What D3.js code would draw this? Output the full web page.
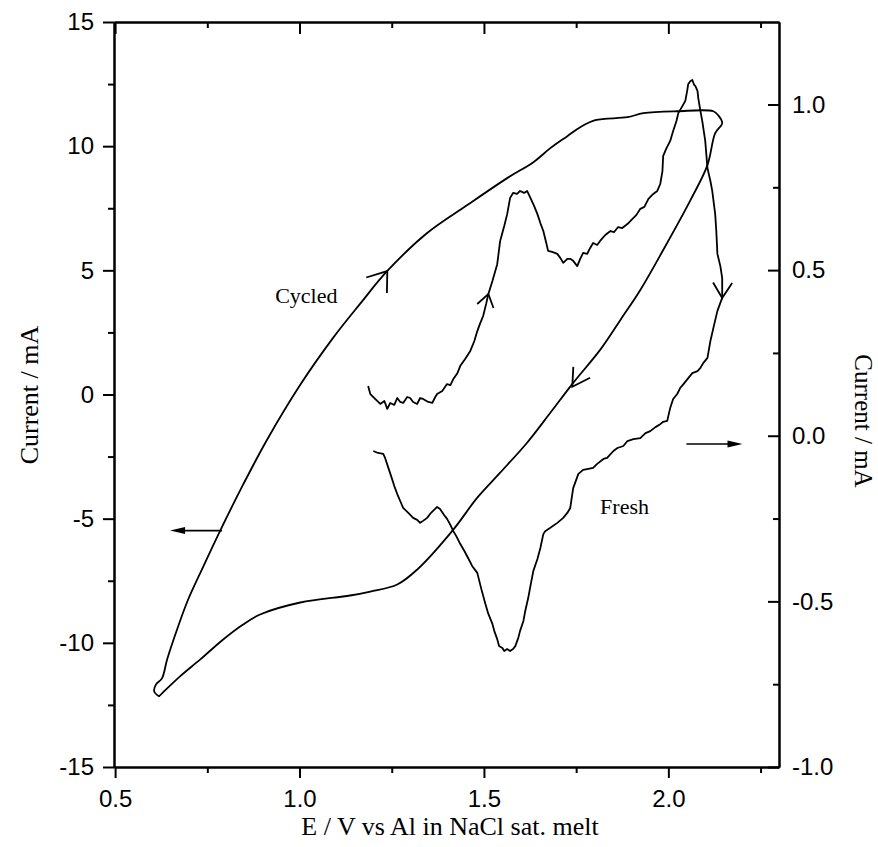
<!DOCTYPE html>
<html>
<head>
<meta charset="utf-8">
<script src="https://cdn.jsdelivr.net/npm/d3@7"></script>
<style>
  html, body { margin: 0; padding: 0; background: #fff; }
  svg { display: block; }
</style>
</head>
<body>
<svg id="chart" width="878" height="847"></svg>
<script>
// ---------------- DATA ----------------
const voltageTicks = [0.5, 1.0, 1.5, 2.0];
const voltageMinorTicks = [0.75, 1.25, 1.75, 2.25];
const leftTicks = [-15, -10, -5, 0, 5, 10, 15];
const leftMinorTicks = [-12.5, -7.5, -2.5, 2.5, 7.5, 12.5];
const rightTicks = [-1.0, -0.5, 0.0, 0.5, 1.0];
const rightMinorTicks = [-0.75, -0.25, 0.25, 0.75];

// Cycled electrode (left axis, mA) - closed loop
const cycledV = [0.619, 0.606, 0.611, 0.627, 0.641, 0.668, 0.698, 0.739, 0.785, 0.847, 0.912, 1.002, 1.091, 1.164, 1.238, 1.346, 1.455, 1.563, 1.634, 1.680, 1.726, 1.761, 1.802, 1.889, 1.932, 2.024, 2.122, 2.135, 2.146, 2.127, 2.106, 2.060, 1.986, 1.924, 1.870, 1.815, 1.742, 1.680, 1.617, 1.544, 1.482, 1.417, 1.319, 1.265, 1.192, 1.137, 1.002, 0.893, 0.847, 0.793, 0.731, 0.676, 0.630, 0.619];
const cycledI = [-12.155, -11.954, -11.673, -11.432, -10.667, -9.461, -8.255, -6.928, -5.480, -3.631, -1.822, 0.390, 2.280, 3.647, 4.974, 6.502, 7.628, 8.713, 9.356, 9.920, 10.402, 10.764, 11.045, 11.166, 11.327, 11.407, 11.407, 11.246, 10.925, 10.523, 9.236, 7.829, 5.818, 4.210, 3.004, 1.797, 0.470, -0.736, -1.942, -3.148, -4.154, -5.440, -7.049, -7.652, -7.933, -8.094, -8.376, -8.858, -9.260, -9.863, -10.667, -11.351, -11.994, -12.155];

// Fresh electrode (right axis, mA)
const freshV = [1.186, 1.192, 1.205, 1.219, 1.230, 1.238, 1.246, 1.257, 1.265, 1.273, 1.281, 1.292, 1.300, 1.308, 1.319, 1.327, 1.335, 1.349, 1.360, 1.368, 1.373, 1.387, 1.400, 1.409, 1.417, 1.428, 1.436, 1.449, 1.463, 1.474, 1.482, 1.490, 1.498, 1.506, 1.512, 1.523, 1.536, 1.544, 1.555, 1.563, 1.571, 1.579, 1.590, 1.598, 1.609, 1.617, 1.626, 1.636, 1.645, 1.653, 1.661, 1.669, 1.674, 1.685, 1.699, 1.707, 1.715, 1.726, 1.734, 1.742, 1.753, 1.761, 1.769, 1.780, 1.788, 1.796, 1.807, 1.815, 1.829, 1.843, 1.853, 1.864, 1.875, 1.889, 1.902, 1.913, 1.924, 1.935, 1.946, 1.959, 1.970, 1.978, 1.984, 1.986, 1.994, 2.005, 2.013, 2.022, 2.027, 2.038, 2.046, 2.051, 2.054, 2.060, 2.065, 2.070, 2.073, 2.079, 2.081, 2.087, 2.092, 2.100, 2.106, 2.114, 2.119, 2.127, 2.130, 2.133, 2.141, 2.146, 2.146, 2.133, 2.122, 2.114, 2.106, 2.095, 2.087, 2.079, 2.065, 2.054, 2.041, 2.032, 2.024, 2.013, 2.005, 1.997, 1.986, 1.978, 1.965, 1.951, 1.938, 1.924, 1.905, 1.889, 1.878, 1.862, 1.851, 1.834, 1.824, 1.807, 1.796, 1.783, 1.769, 1.756, 1.742, 1.734, 1.726, 1.715, 1.699, 1.680, 1.666, 1.661, 1.653, 1.645, 1.634, 1.626, 1.620, 1.612, 1.607, 1.598, 1.593, 1.585, 1.579, 1.571, 1.563, 1.555, 1.550, 1.541, 1.536, 1.528, 1.523, 1.512, 1.504, 1.493, 1.482, 1.468, 1.457, 1.447, 1.436, 1.425, 1.417, 1.409, 1.400, 1.392, 1.381, 1.373, 1.362, 1.354, 1.346, 1.335, 1.327, 1.319, 1.308, 1.295, 1.281, 1.273, 1.265, 1.257, 1.251, 1.240, 1.232, 1.227, 1.213, 1.200];
const freshI = [0.150, 0.126, 0.111, 0.096, 0.105, 0.081, 0.099, 0.093, 0.114, 0.102, 0.099, 0.117, 0.114, 0.102, 0.096, 0.114, 0.111, 0.102, 0.099, 0.117, 0.126, 0.135, 0.156, 0.153, 0.171, 0.189, 0.211, 0.232, 0.256, 0.286, 0.316, 0.340, 0.362, 0.398, 0.428, 0.467, 0.518, 0.588, 0.633, 0.669, 0.718, 0.733, 0.730, 0.739, 0.733, 0.739, 0.718, 0.694, 0.669, 0.642, 0.618, 0.582, 0.558, 0.555, 0.549, 0.537, 0.522, 0.534, 0.534, 0.528, 0.512, 0.534, 0.552, 0.549, 0.567, 0.582, 0.576, 0.588, 0.606, 0.618, 0.615, 0.630, 0.627, 0.639, 0.654, 0.666, 0.685, 0.691, 0.715, 0.730, 0.739, 0.760, 0.799, 0.845, 0.866, 0.890, 0.920, 0.950, 0.974, 0.995, 1.011, 1.041, 1.062, 1.071, 1.074, 1.059, 1.056, 1.041, 1.020, 0.980, 0.950, 0.890, 0.808, 0.769, 0.739, 0.669, 0.618, 0.549, 0.512, 0.476, 0.416, 0.377, 0.325, 0.286, 0.235, 0.220, 0.205, 0.195, 0.189, 0.174, 0.156, 0.144, 0.126, 0.111, 0.084, 0.045, 0.042, 0.035, 0.026, 0.014, 0.008, -0.007, -0.010, -0.016, -0.031, -0.037, -0.046, -0.067, -0.070, -0.085, -0.097, -0.100, -0.103, -0.115, -0.158, -0.218, -0.233, -0.248, -0.263, -0.278, -0.288, -0.297, -0.339, -0.372, -0.408, -0.454, -0.490, -0.529, -0.559, -0.589, -0.611, -0.635, -0.644, -0.650, -0.644, -0.650, -0.641, -0.635, -0.614, -0.589, -0.568, -0.538, -0.508, -0.463, -0.414, -0.393, -0.369, -0.348, -0.327, -0.303, -0.288, -0.269, -0.251, -0.239, -0.221, -0.215, -0.227, -0.236, -0.248, -0.257, -0.263, -0.254, -0.248, -0.233, -0.218, -0.197, -0.176, -0.152, -0.131, -0.094, -0.067, -0.055, -0.052, -0.046];

// Direction arrows on curves: [V, I, axis]
const sweepArrowV = [1.238, 1.512, 1.7395, 2.146];
const sweepArrowI = [4.97, 0.428, 0.31, 0.416];
const sweepArrowAxis = ["left", "right", "left", "right"];

// Axis-indicator arrows: [V start, V end, I, axis]
const axisArrowV0 = [0.790, 2.049];
const axisArrowV1 = [0.649, 2.201];
const axisArrowI = [-5.48, -0.025];
const axisArrowAxis = ["left", "right"];

// Labels
const labelText = ["Cycled", "Fresh"];
const labelV = [0.934, 1.815];
const labelI = [3.687, -0.236];
const labelAxis = ["left", "right"];

// ---------------- CHART ----------------
const svg = d3.select("#chart");
const L = 114, R = 779, T = 22, B = 767;

const x = d3.scaleLinear().domain([0.497, 2.3]).range([L, R]);
const yL = d3.scaleLinear().domain([-15, 15]).range([B, T]);
const yR = d3.scaleLinear().domain([-1.0, 1.249]).range([B, T]);
const yOf = a => a === "left" ? yL : yR;

const tickFont = "'Liberation Sans', Arial, sans-serif";
const serifFont = "'Liberation Serif', 'Times New Roman', serif";

function styleAxis(g) {
  g.select(".domain").attr("stroke", "#000").attr("stroke-width", 2);
  g.selectAll(".tick line").attr("stroke", "#000").attr("stroke-width", 2);
  g.selectAll(".tick text").attr("fill", "#000").style("font-family", tickFont).style("font-size", "24px");
}

// minor ticks
svg.append("g").attr("transform", `translate(0,${B})`)
  .call(d3.axisBottom(x).tickValues(voltageMinorTicks).tickSize(6).tickSizeOuter(0).tickFormat(""))
  .call(styleAxis);
svg.append("g").attr("transform", `translate(0,${T})`)
  .call(d3.axisTop(x).tickValues(voltageMinorTicks).tickSize(-6).tickSizeOuter(0).tickFormat(""))
  .call(styleAxis);
svg.append("g").attr("transform", `translate(${L},0)`)
  .call(d3.axisLeft(yL).tickValues(leftMinorTicks).tickSize(6).tickSizeOuter(0).tickFormat(""))
  .call(styleAxis);
svg.append("g").attr("transform", `translate(${R},0)`)
  .call(d3.axisRight(yR).tickValues(rightMinorTicks).tickSize(-6).tickSizeOuter(0).tickFormat(""))
  .call(styleAxis);

// major axes
svg.append("g").attr("transform", `translate(0,${B})`)
  .call(d3.axisBottom(x).tickValues(voltageTicks).tickSize(11).tickPadding(12).tickSizeOuter(0).tickFormat(d3.format(".1f")))
  .call(styleAxis);
svg.append("g").attr("transform", `translate(0,${T})`)
  .call(d3.axisTop(x).tickValues(voltageTicks).tickSize(-12).tickSizeOuter(0).tickFormat(""))
  .call(styleAxis);
svg.append("g").attr("transform", `translate(${L},0)`)
  .call(d3.axisLeft(yL).tickValues(leftTicks).tickSize(11).tickPadding(9).tickSizeOuter(0).tickFormat(d => String(d)))
  .call(styleAxis);
svg.append("g").attr("transform", `translate(${R},0)`)
  .call(d3.axisRight(yR).tickValues(rightTicks).tickSize(-11).tickPadding(13).tickSizeOuter(0).tickFormat(d3.format(".1f")))
  .call(styleAxis);

// plain hyphen minus signs as in the original
svg.selectAll(".tick text").text(function() { return d3.select(this).text().replace("\u2212", "-"); });

// curves
const cycled = cycledV.map((v, i) => [v, cycledI[i]]);
const fresh = freshV.map((v, i) => [v, freshI[i]]);

svg.append("path")
  .datum(cycled)
  .attr("fill", "none").attr("stroke", "#000").attr("stroke-width", 1.8)
  .attr("stroke-linejoin", "round")
  .attr("d", d3.line().x(d => x(d[0])).y(d => yL(d[1])).curve(d3.curveCatmullRom.alpha(0.5)));

svg.append("path")
  .datum(fresh)
  .attr("fill", "none").attr("stroke", "#000").attr("stroke-width", 1.8)
  .attr("stroke-linejoin", "round")
  .attr("d", d3.line().x(d => x(d[0])).y(d => yR(d[1])));

// sweep direction arrowheads (open V)
const backAngles = [127, 104, -57, -88.5];
const wingLens = [22, 15, 20, 18];
const spreads = [36, 34, 30, 32];
sweepArrowV.forEach((v, k) => {
  const tx = x(v), ty = yOf(sweepArrowAxis[k])(sweepArrowI[k]);
  const pts = [-1, 1].map(s => {
    const a = (backAngles[k] + s * spreads[k]) * Math.PI / 180;
    return [tx + wingLens[k] * Math.cos(a), ty + wingLens[k] * Math.sin(a)];
  });
  svg.append("path")
    .attr("d", `M${pts[0][0]},${pts[0][1]}L${tx},${ty}L${pts[1][0]},${pts[1][1]}`)
    .attr("fill", "none").attr("stroke", "#000").attr("stroke-width", 1.8)
    .attr("stroke-linejoin", "miter");
});

// axis indicator arrows
axisArrowV0.forEach((v0, k) => {
  const ys = yOf(axisArrowAxis[k]);
  const x0 = x(v0), x1 = x(axisArrowV1[k]), yy = ys(axisArrowI[k]);
  const dir = Math.sign(x1 - x0);
  const headLen = 15, headHalf = 3.5;
  svg.append("line")
    .attr("x1", x0).attr("y1", yy).attr("x2", x1 - dir * headLen * 0.6).attr("y2", yy)
    .attr("stroke", "#000").attr("stroke-width", 1.6);
  svg.append("path")
    .attr("d", `M${x1},${yy}L${x1 - dir * headLen},${yy - headHalf}L${x1 - dir * headLen},${yy + headHalf}Z`)
    .attr("fill", "#000");
});

// curve labels
labelText.forEach((t, k) => {
  svg.append("text")
    .attr("x", x(labelV[k])).attr("y", yOf(labelAxis[k])(labelI[k]))
    .style("font-family", serifFont).style("font-size", "22px")
    .attr("fill", "#000").text(t);
});

// axis titles
svg.append("text")
  .attr("x", 450).attr("y", 835).attr("text-anchor", "middle")
  .style("font-family", serifFont).style("font-size", "26px").text("E / V vs Al in NaCl sat. melt");
svg.append("text")
  .attr("transform", "translate(38,395) rotate(-90)").attr("text-anchor", "middle")
  .style("font-family", serifFont).style("font-size", "26px").text("Current / mA");
svg.append("text")
  .attr("transform", "translate(855,421) rotate(90)").attr("text-anchor", "middle")
  .style("font-family", serifFont).style("font-size", "25px").text("Current / mA");
</script>
</body>
</html>
